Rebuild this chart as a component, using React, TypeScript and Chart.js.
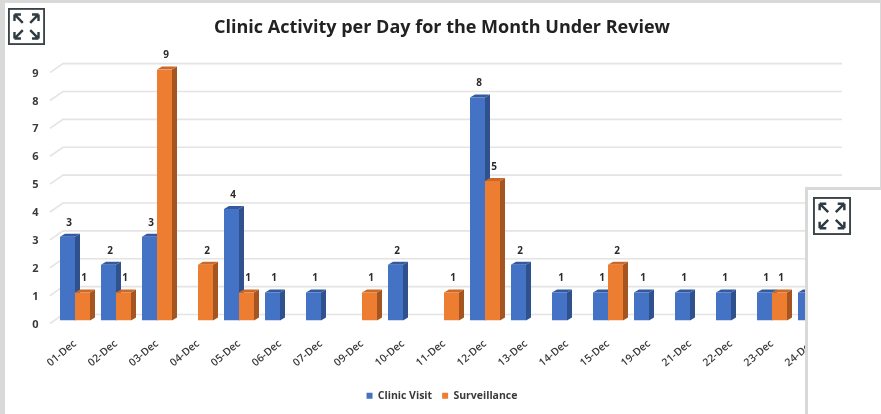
import React, { useEffect, useRef } from "react";
import { Chart, registerables } from "chart.js";

Chart.register(...registerables);

const categories = ["01-Dec","02-Dec","03-Dec","04-Dec","05-Dec","06-Dec","07-Dec","09-Dec","10-Dec","11-Dec","12-Dec","13-Dec","14-Dec","15-Dec","19-Dec","21-Dec","22-Dec","23-Dec","24-Dec"];
const clinicVisit = [3,2,3,null,4,1,1,null,2,null,8,2,1,1,1,1,1,1,1];
const surveillance = [1,1,9,2,1,null,null,1,null,1,5,null,null,2,null,null,null,1,null];
const FONT = "'Open Sans', sans-serif";
const TEXT = "#3a3a3a";

const depth = { dx: 5, dy: -3 };
const sideColors = ["#2F528F", "#A5551F"];
const topColors = ["#335A9E", "#C9692A"];

const gridPlugin = {
  id: "grid3d",
  beforeDatasetsDraw(chart: any) {
    const { ctx, scales: { y } } = chart;
    ctx.save();
    ctx.strokeStyle = "#e4e4e4";
    ctx.lineWidth = 1.6;
    y.ticks.forEach((t: any) => {
      const py = y.getPixelForValue(t.value);
      ctx.beginPath();
      ctx.moveTo(50, py + 3);
      ctx.lineTo(63, py - 6);
      ctx.lineTo(842, py - 6);
      ctx.stroke();
    });
    ctx.restore();
  },
};

const depthPlugin = {
  id: "barDepth",
  beforeDatasetsDraw(chart: any) {
    const { ctx } = chart;
    ctx.save();
    chart.data.datasets.forEach((ds: any, i: number) => {
      chart.getDatasetMeta(i).data.forEach((bar: any, j: number) => {
        if (ds.data[j] == null) return;
        const r = bar.x + bar.width / 2;
        const l = bar.x - bar.width / 2;
        ctx.fillStyle = sideColors[i];
        ctx.beginPath();
        ctx.moveTo(r, bar.y);
        ctx.lineTo(r + depth.dx, bar.y + depth.dy);
        ctx.lineTo(r + depth.dx, bar.base + depth.dy);
        ctx.lineTo(r, bar.base);
        ctx.closePath();
        ctx.fill();
        ctx.fillStyle = topColors[i];
        ctx.beginPath();
        ctx.moveTo(l, bar.y);
        ctx.lineTo(l + depth.dx, bar.y + depth.dy);
        ctx.lineTo(r + depth.dx, bar.y + depth.dy);
        ctx.lineTo(r, bar.y);
        ctx.closePath();
        ctx.fill();
      });
    });
    ctx.restore();
  },
};

const labelPlugin = {
  id: "valueLabels",
  afterDatasetsDraw(chart: any) {
    const { ctx } = chart;
    ctx.save();
    ctx.font = `bold 10px ${FONT}`;
    ctx.fillStyle = "#2b2b2b";
    ctx.textAlign = "center";
    ctx.textBaseline = "middle";
    chart.data.datasets.forEach((ds: any, i: number) => {
      chart.getDatasetMeta(i).data.forEach((bar: any, j: number) => {
        if (ds.data[j] == null) return;
        ctx.fillText(String(ds.data[j]), bar.x + 1.5, bar.y - 14);
      });
    });
    ctx.restore();
  },
};

function ExpandIcon({ left, top, size }: { left: number; top: number; size: number }) {
  const arrows = [
    "M7 7 L16 16 M7 7 L7 14 M7 7 L14 7",
    "M33 7 L24 16 M33 7 L33 14 M33 7 L26 7",
    "M7 33 L16 24 M7 33 L7 26 M7 33 L14 33",
    "M33 33 L24 24 M33 33 L33 26 M33 33 L26 33",
  ];
  return (
    <svg
      viewBox="0 0 40 40"
      width={size}
      height={size}
      style={{ position: "absolute", left, top, background: "#fff", filter: "blur(0.3px)" }}
    >
      <rect x="1" y="1" width="38" height="38" fill="#fff" stroke="#3b4347" strokeWidth="2" />
      {arrows.map((d) => (
        <path key={d} d={d} fill="none" stroke="#2f3b42" strokeWidth="2.6" />
      ))}
    </svg>
  );
}

export default function App() {
  const ref = useRef<HTMLCanvasElement>(null);
  useEffect(() => {
    const chart = new Chart(ref.current!, {
      type: "bar",
      data: {
        labels: categories,
        datasets: [
          { label: "Clinic Visit", data: clinicVisit, backgroundColor: "#4472C4" },
          { label: "Surveillance", data: surveillance, backgroundColor: "#ED7D31" },
        ],
      },
      plugins: [gridPlugin, depthPlugin, labelPlugin],
      options: {
        animation: false,
        responsive: false,
        datasets: { bar: { categoryPercentage: 30 / 41, barPercentage: 1 } },
        layout: { padding: { left: 3, right: 0, top: 17, bottom: 3 } },
        scales: {
          x: {
            grid: { display: false },
            border: { display: false },
            afterFit(s: any) { s.height = 60; },
            ticks: {
              autoSkip: false,
              minRotation: 40,
              maxRotation: 40,
              padding: 9,
              color: TEXT,
              font: { family: FONT, size: 10.5, weight: "600" },
            },
          },
          y: {
            min: 0,
            max: 9,
            grid: { display: false, drawTicks: false },
            border: { display: false },
            afterFit(s: any) { s.width = 51.5; },
            ticks: {
              stepSize: 1,
              padding: 16,
              labelOffset: 4,
              color: TEXT,
              font: { family: FONT, size: 11, weight: "bold" },
            },
          },
          rightSpacer: {
            position: "right",
            display: true,
            min: 0,
            max: 9,
            grid: { display: false, drawTicks: false },
            border: { display: false },
            ticks: { display: false },
            afterFit(s: any) { s.width = 47.5; },
          },
        },
        plugins: {
          tooltip: { enabled: false },
          title: {
            display: true,
            text: "Clinic Activity per Day for the Month Under Review",
            color: "#222222",
            font: { family: FONT, size: 18, weight: "bold" },
            padding: { top: 0, bottom: 31 },
          },
          legend: {
            position: "bottom",
            labels: {
              boxWidth: 6,
              boxHeight: 6,
              padding: 10,
              color: TEXT,
              font: { family: FONT, size: 10.5, weight: "bold" },
            },
          },
        },
      },
    } as any);
    return () => chart.destroy();
  }, []);

  return (
    <div style={{ position: "fixed", left: 0, top: 0, width: 881, height: 414, background: "#fff", overflow: "hidden" }}>
      <canvas ref={ref} width={881} height={414} style={{ position: "absolute", left: 0, top: 0, filter: "blur(0.4px)" }} />
      <div style={{ position: "absolute", left: 0, top: 0, width: 5, height: 414, background: "#d9d9d9" }} />
      <div style={{ position: "absolute", left: 0, top: 0, width: 881, height: 3, background: "#d9d9d9" }} />
      <div style={{ position: "absolute", left: 879.5, top: 0, width: 1.5, height: 187, background: "#d9d9d9" }} />
      <div style={{ position: "absolute", left: 805, top: 187, width: 76, height: 227, background: "#fff", borderLeft: "3px solid #d9d9d9", borderTop: "3px solid #d9d9d9", boxSizing: "border-box" }} />
      <ExpandIcon left={8} top={8} size={37} />
      <ExpandIcon left={813} top={197} size={38} />
    </div>
  );
}
